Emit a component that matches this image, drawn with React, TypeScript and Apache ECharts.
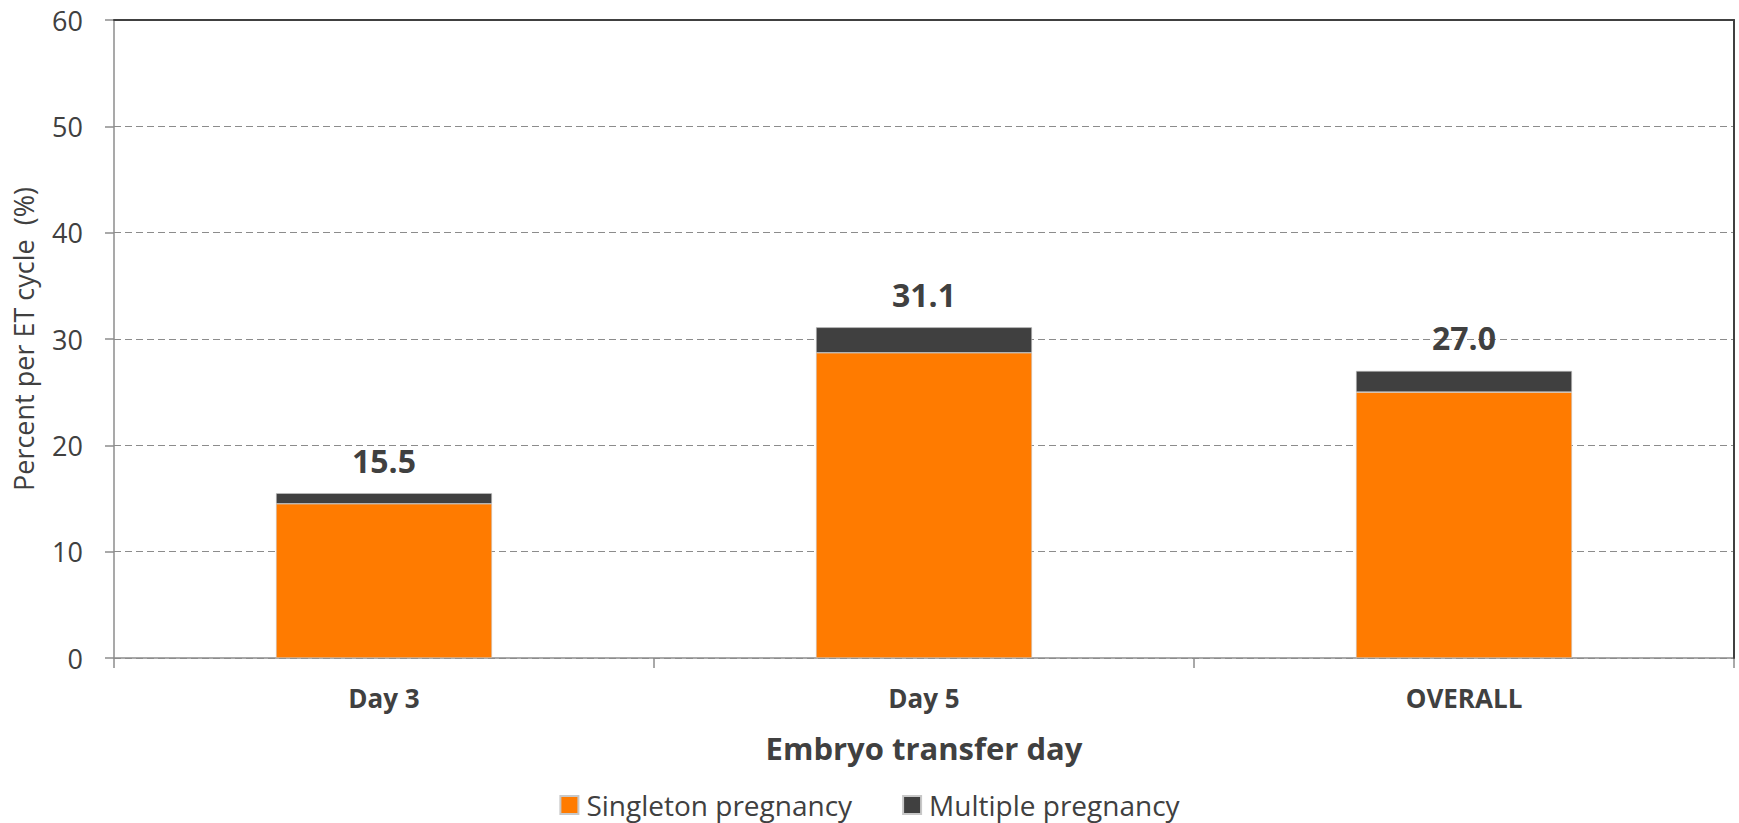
import React, { useEffect, useRef } from "react";
import * as echarts from "echarts";

const categories = ["Day 3", "Day 5", "OVERALL"];
const singleton = [14.5, 28.7, 25.0];
const multiple = [1.0, 2.4, 2.0];
const totals = [15.5, 31.1, 27.0];
const seriesNames = ["Singleton pregnancy", "Multiple pregnancy"];
const yMin = 0;
const yMax = 60;
const yInterval = 10;

const FONT = "'Open Sans', 'DejaVu Sans', sans-serif";
const TEXT = "#404040";
const AXIS = "#8c8c8c";

export default function App() {
  const ref = useRef<HTMLDivElement>(null);

  useEffect(() => {
    document.body.style.margin = "0";
    if (!ref.current) return;
    const chart = echarts.init(ref.current, undefined, { renderer: "svg" });
    chart.setOption({
      animation: false,
      backgroundColor: "#ffffff",
      textStyle: { fontFamily: FONT },
      grid: { left: 114, right: 5, top: 20, bottom: 165, containLabel: false },
      legend: {
        data: seriesNames,
        icon: "rect",
        itemWidth: 18,
        itemHeight: 18,
        itemGap: 50,
        left: "center",
        top: 791,
        padding: 0,
        textStyle: { fontFamily: FONT, fontSize: 28, color: TEXT, padding: [0, 0, 0, 3] },
      },
      xAxis: [
        {
          type: "category",
          data: categories,
          axisLine: { show: true, lineStyle: { color: AXIS, width: 1.5 } },
          axisTick: { show: true, length: 10, lineStyle: { color: AXIS, width: 1.5 } },
          axisLabel: {
            margin: 27,
            fontFamily: FONT,
            fontWeight: "bold",
            fontSize: 26,
            color: TEXT,
          },
          splitLine: { show: false },
          name: "Embryo transfer day",
          nameLocation: "middle",
          nameGap: 74,
          nameTextStyle: { fontFamily: FONT, fontWeight: "bold", fontSize: 31, color: TEXT },
        },
        {
          type: "category",
          data: categories,
          position: "top",
          z: 10,
          axisLine: { show: true, onZero: false, lineStyle: { color: TEXT, width: 2 } },
          axisTick: { show: false },
          axisLabel: { show: false },
          splitLine: { show: false },
        },
      ],
      yAxis: [
        {
          type: "value",
          min: yMin,
          max: yMax,
          interval: yInterval,
          axisLine: { show: true, lineStyle: { color: AXIS, width: 1.5 } },
          axisTick: { show: true, length: 9, lineStyle: { color: AXIS, width: 1.5 } },
          axisLabel: { margin: 31, fontFamily: FONT, fontSize: 27, color: TEXT },
          splitLine: {
            show: true,
            lineStyle: { color: AXIS, width: 1, type: [7, 4] },
          },
          name: "Percent per ET cycle  (%)",
          nameLocation: "middle",
          nameGap: 77,
          nameTextStyle: { fontFamily: FONT, fontSize: 27, color: TEXT },
        },
        {
          type: "value",
          position: "right",
          z: 10,
          min: yMin,
          max: yMax,
          interval: yInterval,
          axisLine: { show: true, onZero: false, lineStyle: { color: TEXT, width: 2 } },
          axisTick: { show: false },
          axisLabel: { show: false },
          splitLine: { show: false },
        },
      ],
      series: [
        {
          name: seriesNames[0],
          type: "bar",
          stack: "total",
          barWidth: "40%",
          xAxisIndex: 0,
          yAxisIndex: 0,
          data: singleton,
          itemStyle: { color: "#ff7b00", borderColor: "#c8c8c8", borderWidth: 0.6 },
        },
        {
          name: seriesNames[1],
          type: "bar",
          stack: "total",
          barWidth: "40%",
          xAxisIndex: 0,
          yAxisIndex: 0,
          data: multiple,
          itemStyle: { color: "#404040", borderColor: "#c8c8c8", borderWidth: 0.6 },
          label: {
            show: true,
            position: "top",
            distance: 17,
            fontFamily: FONT,
            fontWeight: "bold",
            fontSize: 32,
            color: TEXT,
            formatter: (p: any) => totals[p.dataIndex].toFixed(1),
          },
        },
      ],
    });
    return () => chart.dispose();
  }, []);

  return <div ref={ref} style={{ width: 1739, height: 823 }} />;
}
